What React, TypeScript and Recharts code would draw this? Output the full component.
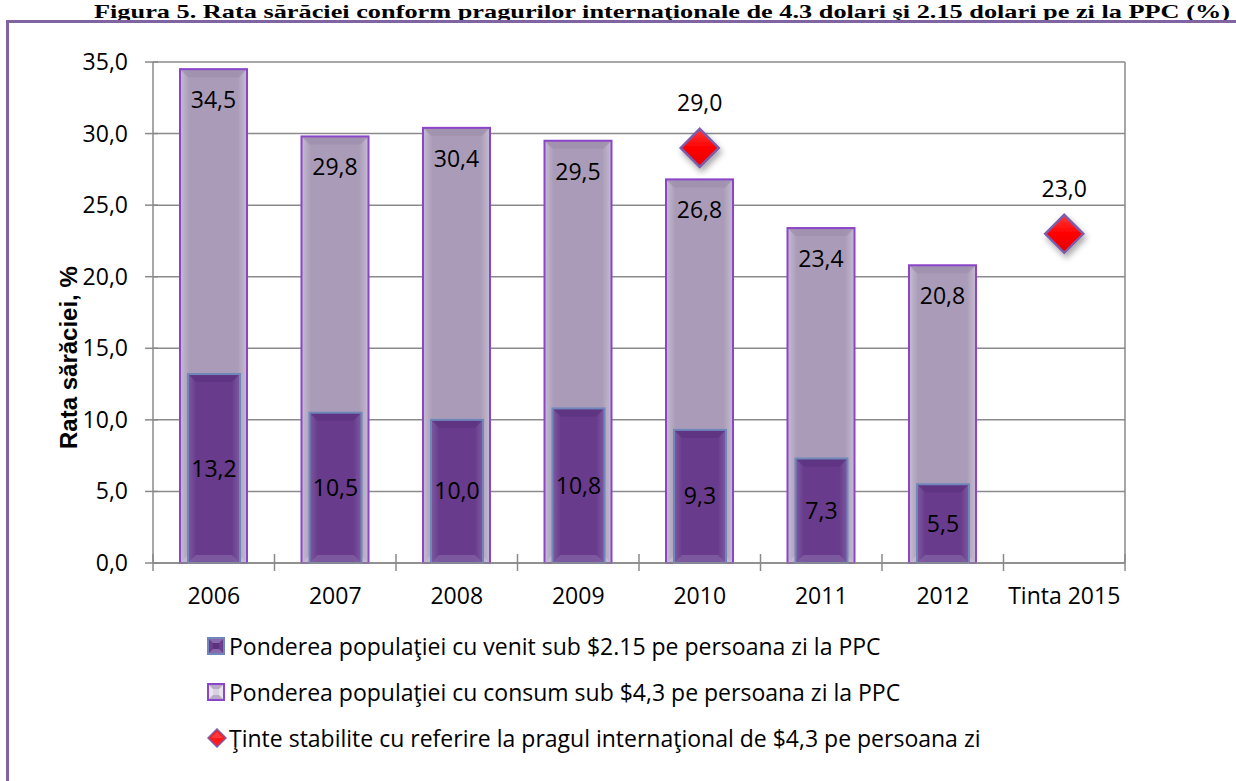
import React from 'react';
import { ComposedChart, Bar, Line, XAxis, YAxis, CartesianGrid, LabelList } from 'recharts';

const categories = ['2006', '2007', '2008', '2009', '2010', '2011', '2012', 'Tinta 2015'];
const consumSub43 = [34.5, 29.8, 30.4, 29.5, 26.8, 23.4, 20.8, null];
const venitSub215 = [13.2, 10.5, 10.0, 10.8, 9.3, 7.3, 5.5, null];
const tinte = [null, null, null, null, 29.0, null, null, 23.0];
const yTicks = [0, 5, 10, 15, 20, 25, 30, 35];
const legendLabels = [
  'Ponderea populaţiei cu venit sub $2.15 pe persoana zi la PPC',
  'Ponderea populaţiei cu consum sub $4,3 pe persoana zi la PPC',
  'Ţinte stabilite cu referire la pragul internaţional de $4,3 pe persoana zi',
];
const titleText =
  'Figura 5. Rata sărăciei conform pragurilor internaţionale de 4.3 dolari şi 2.15 dolari pe zi la PPC (%)';
const yTitle = 'Rata sărăciei, %';

const data = categories.map((c, i) => ({
  cat: c,
  consum: consumSub43[i],
  venit: venitSub215[i],
  tinta: tinte[i],
}));

const FONT = '"Open Sans", "DejaVu Sans", sans-serif';
const FS = 23;
const HALF = 8;
const GRID = '#8a8a8a';
const fmt = (v: number) => v.toFixed(1).replace('.', ',');

const LeftTick = (p: any) => {
  const { x, y, payload } = p;
  return (
    <g>
      <line x1={x - 8} x2={x + 5} y1={y} y2={y} stroke={GRID} strokeWidth={1.5} />
      <text x={x - 25} y={y + HALF} textAnchor="end" fontFamily={FONT} fontSize={FS} fill="#000">
        {fmt(payload.value)}
      </text>
    </g>
  );
};

const RightTick = (p: any) => {
  const { x, y, payload } = p;
  return (
    <g>
      <line x1={x - 5} x2={x + 8} y1={y} y2={y} stroke={GRID} strokeWidth={1.5} />
      <text x={x + 24} y={y + HALF} textAnchor="start" fontFamily={FONT} fontSize={FS} fill="#000">
        {fmt(payload.value)}
      </text>
    </g>
  );
};

const XTick = (p: any) => {
  const { x, y, payload, index, width } = p;
  const half =
    payload && payload.offset ? payload.offset : width ? width / categories.length / 2 : 60.75;
  const lines = [x - half];
  if (index === categories.length - 1) lines.push(x + half);
  return (
    <g>
      {lines.map((lx, i) => (
        <line key={i} x1={lx} x2={lx} y1={y - 9} y2={y + 8} stroke={GRID} strokeWidth={1.5} />
      ))}
      <text x={x} y={y + 41} textAnchor="middle" fontFamily={FONT} fontSize={FS} fill="#000">
        {payload.value}
      </text>
    </g>
  );
};

const LightBar = (p: any) => {
  const { x, y, width, height } = p;
  if (!height || height <= 0) return <g />;
  const b = Math.min(8, height / 2);
  return (
    <g>
      <rect x={x} y={y} width={width} height={height} fill="url(#lightGrad)" />
      <polygon
        points={`${x},${y} ${x + width},${y} ${x + width - b},${y + b} ${x + b},${y + b}`}
        fill="#9d8fad"
        opacity={0.7}
      />
      <polygon
        points={`${x},${y + height} ${x + width},${y + height} ${x + width - b},${y + height - b} ${x + b},${y + height - b}`}
        fill="#c9c0d3"
        opacity={0.6}
      />
      <rect x={x} y={y} width={width} height={height} fill="none" stroke="#8b45c9" strokeWidth={2} />
    </g>
  );
};

const DarkBar = (p: any) => {
  const { x, y, width, height } = p;
  if (!height || height <= 0) return <g />;
  const b = Math.min(8, height / 2);
  return (
    <g>
      <rect x={x} y={y} width={width} height={height} fill="url(#darkGrad)" />
      <polygon
        points={`${x},${y} ${x + width},${y} ${x + width - b},${y + b} ${x + b},${y + b}`}
        fill="#5d3380"
        opacity={0.8}
      />
      <polygon
        points={`${x},${y + height} ${x + width},${y + height} ${x + width - b},${y + height - b} ${x + b},${y + height - b}`}
        fill="#8565a6"
        opacity={0.7}
      />
      <rect x={x} y={y} width={width} height={height} fill="none" stroke="#6f87ba" strokeWidth={2} />
    </g>
  );
};

const Diamond = (p: any) => {
  const { cx, cy, value, index } = p;
  if (value == null || cy == null || isNaN(cy)) return <g key={`d${index}`} />;
  const r = 19;
  return (
    <g key={`d${index}`}>
      <polygon
        points={`${cx},${cy - r} ${cx + r},${cy} ${cx},${cy + r} ${cx - r},${cy}`}
        fill="url(#redGrad)"
        stroke="#7c5cab"
        strokeWidth={2.5}
        filter="url(#shadow)"
      />
    </g>
  );
};

const TopLabel = (p: any) => {
  const { x, y, width, value } = p;
  if (value == null) return null;
  return (
    <text x={x + width / 2} y={y + 39} textAnchor="middle" fontFamily={FONT} fontSize={FS} fill="#000">
      {fmt(value)}
    </text>
  );
};

const MidLabel = (p: any) => {
  const { x, y, width, height, value } = p;
  if (value == null) return null;
  return (
    <text
      x={x + width / 2}
      y={y + height / 2 + HALF}
      textAnchor="middle"
      fontFamily={FONT}
      fontSize={FS}
      fill="#000"
    >
      {fmt(value)}
    </text>
  );
};

const DiamondLabel = (p: any) => {
  const { x, y, value } = p;
  if (value == null) return null;
  return (
    <text x={x} y={y - 37} textAnchor="middle" fontFamily={FONT} fontSize={FS} fill="#000">
      {fmt(value)}
    </text>
  );
};

const YTitle = (p: any) => {
  const vb = p.viewBox || { x: 63, y: 62, width: 90, height: 501 };
  const cx = vb.x + 14;
  const cy = vb.y + vb.height * 0.59;
  return (
    <text
      x={cx}
      y={cy}
      transform={`rotate(-90 ${cx} ${cy})`}
      textAnchor="middle"
      fontFamily='"Liberation Sans", Arial, sans-serif'
      fontWeight="bold"
      fontSize={24}
      fill="#000"
    >
      {yTitle}
    </text>
  );
};

const LegendIcon = ({ kind }: { kind: number }) => {
  if (kind === 2) {
    return (
      <svg width={20} height={20} viewBox="0 0 20 20">
        <polygon points="10,1 19,10 10,19 1,10" fill="#ff1a1a" stroke="#7c5cab" strokeWidth={1.5} />
        <polygon points="10,4 16,10 10,10 4,10" fill="#ff5050" opacity={0.6} />
      </svg>
    );
  }
  const light = kind === 1;
  return (
    <svg width={18} height={18} viewBox="0 0 18 18">
      <rect x={1} y={1} width={16} height={16} fill={light ? '#e8e3ee' : '#6a3d8e'} stroke={light ? '#8b45c9' : '#6f87ba'} strokeWidth={2} />
      <polygon points="2,2 16,2 12,6 6,6" fill={light ? '#b7abc6' : '#8a68ad'} />
      <polygon points="2,16 16,16 12,12 6,12" fill={light ? '#b7abc6' : '#8a68ad'} />
      <rect x={6} y={6} width={6} height={6} fill={light ? '#d9d1e2' : '#5c327e'} />
    </svg>
  );
};

export default function App() {
  return (
    <div style={{ position: 'absolute', left: 0, top: 0, width: 1236, height: 781, overflow: 'hidden', background: '#fff' }}>
      <svg width={1236} height={28} style={{ position: 'absolute', left: 0, top: 0 }}>
        <text
          x={94}
          y={17.5}
          fontFamily='"Liberation Serif", "Times New Roman", serif'
          fontWeight="bold"
          fontSize={19}
          textLength={1136}
          lengthAdjust="spacingAndGlyphs"
          fill="#000"
        >
          {titleText}
        </text>
      </svg>
      <div
        style={{
          position: 'absolute',
          left: 6,
          top: 20,
          width: 1260,
          height: 800,
          borderLeft: '3px solid #8064a2',
          borderTop: '3px solid #8064a2',
          boxSizing: 'border-box',
        }}
      />
      <div style={{ position: 'absolute', left: 0, top: 0 }}>
        <ComposedChart
          width={1236}
          height={781}
          data={data}
          margin={{ top: 62, right: 21, bottom: 168, left: 63 }}
          barGap={0}
        >
          <defs>
            <linearGradient id="lightGrad" x1="0" y1="0" x2="1" y2="0">
              <stop offset="0" stopColor="#c6bcd1" />
              <stop offset="0.14" stopColor="#aa9cb8" />
              <stop offset="0.86" stopColor="#aa9cb8" />
              <stop offset="1" stopColor="#c6bcd1" />
            </linearGradient>
            <linearGradient id="darkGrad" x1="0" y1="0" x2="1" y2="0">
              <stop offset="0" stopColor="#7d5aa0" />
              <stop offset="0.16" stopColor="#683b8c" />
              <stop offset="0.84" stopColor="#683b8c" />
              <stop offset="1" stopColor="#7d5aa0" />
            </linearGradient>
            <linearGradient id="redGrad" x1="0" y1="0" x2="0" y2="1">
              <stop offset="0" stopColor="#ff3a3a" />
              <stop offset="0.5" stopColor="#ff0000" />
              <stop offset="1" stopColor="#e60000" />
            </linearGradient>
            <filter id="shadow" x="-50%" y="-50%" width="200%" height="200%">
              <feDropShadow dx="2" dy="4" stdDeviation="3" floodColor="#000" floodOpacity="0.35" />
            </filter>
          </defs>
          <CartesianGrid
            xAxisId="a"
            yAxisId="l"
            vertical={false}
            stroke={GRID}
            strokeWidth={1.5}
          />
          <XAxis
            xAxisId="a"
            dataKey="cat"
            height={50}
            interval={0}
            axisLine={{ stroke: GRID, strokeWidth: 1.5 }}
            tickLine={false}
            tickSize={0}
            tickMargin={0}
            tick={<XTick />}
          />
          <XAxis xAxisId="b" dataKey="cat" hide />
          <YAxis
            yAxisId="l"
            domain={[0, 35]}
            ticks={yTicks}
            interval={0}
            width={90}
            axisLine={{ stroke: GRID, strokeWidth: 1.5 }}
            tickLine={false}
            tickSize={0}
            tickMargin={0}
            tick={<LeftTick />}
            label={{ content: YTitle }}
          />
          <YAxis
            yAxisId="r"
            orientation="right"
            domain={[0, 35]}
            ticks={yTicks}
            interval={0}
            width={90}
            axisLine={{ stroke: GRID, strokeWidth: 1.5 }}
            tickLine={false}
            tickSize={0}
            tickMargin={0}
            tick={<RightTick />}
          />
          <Bar
            xAxisId="a"
            yAxisId="l"
            dataKey="consum"
            barSize={67}
            shape={LightBar}
            isAnimationActive={false}
          >
            <LabelList dataKey="consum" content={TopLabel} />
          </Bar>
          <Bar
            xAxisId="b"
            yAxisId="l"
            dataKey="venit"
            barSize={52}
            shape={DarkBar}
            isAnimationActive={false}
          >
            <LabelList dataKey="venit" content={MidLabel} />
          </Bar>
          <Line
            xAxisId="a"
            yAxisId="l"
            dataKey="tinta"
            stroke="none"
            dot={Diamond}
            activeDot={false}
            isAnimationActive={false}
          >
            <LabelList dataKey="tinta" content={DiamondLabel} />
          </Line>
        </ComposedChart>
      </div>
      {legendLabels.map((t, i) => (
        <div
          key={i}
          style={{
            position: 'absolute',
            left: 207,
            top: [646, 692, 738][i] - 15,
            height: 30,
            display: 'flex',
            alignItems: 'center',
            whiteSpace: 'nowrap',
            fontFamily: FONT,
            fontSize: FS,
            color: '#000',
          }}
        >
          <span style={{ width: 22, display: 'inline-flex', alignItems: 'center' }}>
            <LegendIcon kind={i} />
          </span>
          <span>{t}</span>
        </div>
      ))}
    </div>
  );
}
